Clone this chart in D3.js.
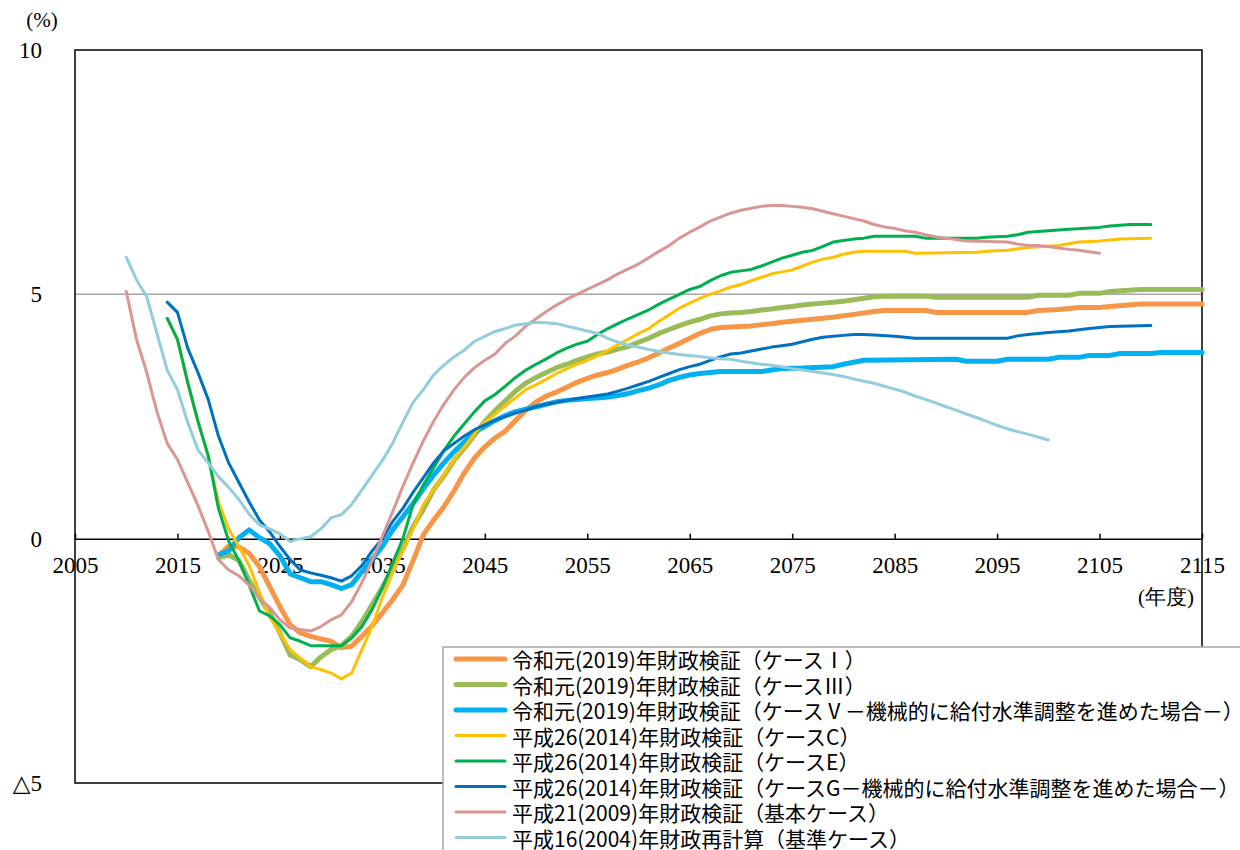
<!DOCTYPE html>
<html><head><meta charset="utf-8">
<script src="https://cdn.jsdelivr.net/npm/d3@7/dist/d3.min.js"></script>
<style>
body{margin:0;background:#fff}
.serif text, text.serif{font-family:"Liberation Serif","DejaVu Serif",serif}
</style>
</head><body>
<svg id="chart" width="1240" height="850"></svg>
<script>
// ---------- data ----------
const xTickValues = [2005, 2015, 2025, 2035, 2045, 2055, 2065, 2075, 2085, 2095, 2105, 2115];
const yTickValues = [10, 5, 0, -5];
const yTickLabels = ["10", "5", "0", "△5"];

const seriesNames = [
  "令和元(2019)年財政検証（ケースⅠ）",
  "令和元(2019)年財政検証（ケースⅢ）",
  "令和元(2019)年財政検証（ケースⅤ－機械的に給付水準調整を進めた場合－）",
  "平成26(2014)年財政検証（ケースC）",
  "平成26(2014)年財政検証（ケースE）",
  "平成26(2014)年財政検証（ケースG－機械的に給付水準調整を進めた場合－）",
  "平成21(2009)年財政検証（基本ケース）",
  "平成16(2004)年財政再計算（基準ケース）"
];

const r1CaseI = [[2019,-0.35],[2020,-0.15],[2021,-0.17],[2022,-0.3],[2023,-0.57],[2024,-0.98],[2025,-1.39],[2026,-1.76],[2027,-1.93],[2028,-2.0],[2029,-2.05],[2030,-2.1],[2031,-2.23],[2032,-2.2],[2033,-2.0],[2034,-1.78],[2035,-1.52],[2036,-1.25],[2037,-0.95],[2038,-0.45],[2039,0.08],[2040,0.38],[2041,0.65],[2042,0.98],[2043,1.35],[2044,1.65],[2045,1.88],[2046,2.06],[2047,2.2],[2048,2.42],[2049,2.63],[2050,2.8],[2051,2.92],[2052,3.0],[2053,3.1],[2054,3.2],[2055,3.28],[2056,3.35],[2057,3.4],[2058,3.47],[2059,3.55],[2060,3.62],[2061,3.7],[2062,3.8],[2063,3.9],[2064,4.0],[2065,4.1],[2066,4.2],[2067,4.28],[2068,4.32],[2070,4.34],[2071,4.35],[2072,4.38],[2073,4.4],[2074,4.43],[2075,4.45],[2076,4.47],[2077,4.49],[2078,4.51],[2079,4.53],[2080,4.56],[2081,4.59],[2082,4.62],[2083,4.65],[2084,4.67],[2088,4.67],[2089,4.63],[2098,4.63],[2099,4.67],[2101,4.69],[2103,4.73],[2105,4.73],[2106,4.75],[2109,4.8],[2115,4.8]];

const r1CaseIII = [[2019,-0.39],[2020,-0.33],[2021,-0.45],[2022,-0.85],[2023,-1.2],[2024,-1.52],[2025,-1.93],[2026,-2.38],[2027,-2.48],[2028,-2.62],[2029,-2.42],[2030,-2.27],[2031,-2.19],[2032,-2.0],[2033,-1.7],[2034,-1.35],[2035,-1.0],[2036,-0.62],[2037,-0.22],[2038,0.25],[2039,0.6],[2040,1.0],[2041,1.28],[2042,1.6],[2043,1.85],[2044,2.12],[2045,2.4],[2046,2.62],[2047,2.82],[2048,3.02],[2049,3.18],[2050,3.3],[2051,3.4],[2052,3.5],[2053,3.57],[2054,3.65],[2055,3.72],[2056,3.78],[2057,3.82],[2058,3.88],[2059,3.93],[2060,4.02],[2061,4.1],[2062,4.2],[2063,4.28],[2064,4.36],[2065,4.43],[2066,4.49],[2067,4.56],[2068,4.6],[2069,4.62],[2070,4.63],[2071,4.65],[2072,4.68],[2073,4.7],[2074,4.73],[2075,4.75],[2076,4.78],[2077,4.8],[2078,4.82],[2079,4.84],[2080,4.86],[2081,4.89],[2082,4.92],[2083,4.95],[2084,4.96],[2088,4.96],[2089,4.94],[2098,4.94],[2099,4.98],[2102,4.98],[2103,5.02],[2105,5.02],[2106,5.06],[2109,5.1],[2115,5.1]];

const r1CaseV = [[2019,-0.33],[2020,-0.25],[2021,0.02],[2022,0.18],[2023,0.02],[2024,-0.1],[2025,-0.35],[2026,-0.72],[2027,-0.8],[2028,-0.88],[2029,-0.88],[2030,-0.94],[2031,-1.02],[2032,-0.94],[2033,-0.68],[2034,-0.42],[2035,-0.16],[2036,0.18],[2037,0.45],[2038,0.72],[2039,1.02],[2040,1.3],[2041,1.55],[2042,1.78],[2043,1.98],[2044,2.18],[2045,2.3],[2046,2.42],[2047,2.52],[2048,2.6],[2049,2.65],[2050,2.7],[2051,2.75],[2052,2.8],[2053,2.83],[2054,2.85],[2055,2.87],[2056,2.88],[2057,2.9],[2058,2.93],[2059,2.97],[2060,3.03],[2061,3.08],[2062,3.15],[2063,3.24],[2064,3.3],[2065,3.35],[2066,3.38],[2067,3.4],[2068,3.42],[2072,3.42],[2073,3.45],[2074,3.48],[2076,3.49],[2079,3.52],[2080,3.57],[2081,3.61],[2082,3.65],[2091,3.67],[2092,3.63],[2095,3.63],[2096,3.67],[2100,3.67],[2101,3.71],[2103,3.71],[2104,3.75],[2106,3.75],[2107,3.79],[2110,3.79],[2111,3.81],[2115,3.81]];

const h26CaseC = [[2014,4.51],[2015,4.08],[2016,3.2],[2017,2.4],[2018,1.7],[2019,0.75],[2020,0.2],[2021,-0.16],[2022,-0.55],[2023,-1.1],[2024,-1.6],[2025,-1.93],[2026,-2.27],[2027,-2.45],[2028,-2.62],[2029,-2.68],[2030,-2.75],[2031,-2.87],[2032,-2.75],[2033,-2.27],[2034,-1.8],[2035,-1.2],[2036,-0.7],[2037,-0.25],[2038,0.2],[2039,0.7],[2040,1.0],[2041,1.3],[2042,1.62],[2043,1.88],[2044,2.15],[2045,2.38],[2046,2.55],[2047,2.72],[2048,2.88],[2049,3.05],[2050,3.15],[2051,3.26],[2052,3.38],[2053,3.48],[2054,3.57],[2055,3.65],[2056,3.74],[2057,3.85],[2058,3.97],[2059,4.08],[2060,4.2],[2061,4.3],[2062,4.45],[2063,4.58],[2064,4.72],[2065,4.82],[2066,4.92],[2067,5.0],[2068,5.07],[2069,5.15],[2070,5.2],[2071,5.28],[2072,5.35],[2073,5.42],[2074,5.46],[2075,5.5],[2076,5.58],[2077,5.66],[2078,5.72],[2079,5.76],[2080,5.82],[2081,5.86],[2082,5.88],[2086,5.88],[2087,5.84],[2093,5.86],[2094,5.88],[2096,5.9],[2098,5.96],[2101,6.0],[2103,6.07],[2105,6.09],[2107,6.13],[2110,6.15]];

const h26CaseE = [[2014,4.51],[2015,4.08],[2016,3.2],[2017,2.4],[2018,1.7],[2019,0.62],[2020,-0.05],[2021,-0.45],[2022,-0.95],[2023,-1.48],[2024,-1.58],[2025,-1.76],[2026,-2.03],[2027,-2.1],[2028,-2.19],[2031,-2.19],[2032,-2.03],[2033,-1.8],[2034,-1.45],[2035,-1.0],[2036,-0.5],[2037,0.0],[2038,0.7],[2039,1.1],[2040,1.45],[2041,1.8],[2042,2.1],[2043,2.35],[2044,2.6],[2045,2.82],[2046,2.95],[2047,3.12],[2048,3.3],[2049,3.45],[2050,3.57],[2051,3.68],[2052,3.8],[2053,3.9],[2054,3.98],[2055,4.04],[2056,4.18],[2057,4.3],[2058,4.4],[2059,4.5],[2060,4.59],[2061,4.68],[2062,4.8],[2063,4.9],[2064,5.0],[2065,5.1],[2066,5.16],[2067,5.28],[2068,5.38],[2069,5.45],[2070,5.48],[2071,5.51],[2072,5.58],[2073,5.66],[2074,5.74],[2075,5.8],[2076,5.86],[2077,5.9],[2078,5.98],[2079,6.07],[2080,6.1],[2081,6.13],[2082,6.15],[2083,6.19],[2087,6.19],[2088,6.15],[2093,6.15],[2094,6.17],[2096,6.19],[2097,6.22],[2098,6.27],[2100,6.3],[2102,6.33],[2105,6.37],[2106,6.4],[2108,6.43],[2110,6.43]];

const h26CaseG = [[2014,4.84],[2015,4.63],[2016,3.9],[2017,3.4],[2018,2.85],[2019,2.1],[2020,1.55],[2021,1.15],[2022,0.75],[2023,0.38],[2024,0.14],[2025,-0.16],[2026,-0.43],[2027,-0.64],[2028,-0.7],[2029,-0.75],[2030,-0.8],[2031,-0.87],[2032,-0.76],[2033,-0.55],[2034,-0.25],[2035,0.0],[2036,0.35],[2037,0.62],[2038,0.95],[2039,1.25],[2040,1.55],[2041,1.8],[2042,1.95],[2043,2.1],[2044,2.23],[2045,2.33],[2046,2.42],[2047,2.5],[2048,2.57],[2049,2.63],[2050,2.7],[2051,2.75],[2052,2.79],[2053,2.83],[2054,2.87],[2055,2.9],[2056,2.93],[2057,2.96],[2058,3.02],[2059,3.08],[2060,3.15],[2061,3.22],[2062,3.3],[2063,3.38],[2064,3.46],[2065,3.52],[2066,3.57],[2067,3.65],[2068,3.72],[2069,3.78],[2070,3.8],[2071,3.84],[2072,3.88],[2073,3.92],[2074,3.95],[2075,3.98],[2076,4.03],[2077,4.08],[2078,4.12],[2079,4.14],[2080,4.16],[2081,4.18],[2082,4.18],[2083,4.17],[2085,4.14],[2087,4.1],[2096,4.1],[2097,4.15],[2098,4.18],[2100,4.22],[2102,4.25],[2104,4.3],[2106,4.34],[2108,4.35],[2110,4.36]];

const h21Base = [[2010,5.06],[2011,4.08],[2012,3.4],[2013,2.6],[2014,1.95],[2015,1.62],[2016,1.15],[2017,0.68],[2018,0.15],[2019,-0.43],[2020,-0.64],[2021,-0.76],[2022,-0.95],[2023,-1.22],[2024,-1.41],[2025,-1.66],[2026,-1.83],[2027,-1.86],[2028,-1.89],[2029,-1.8],[2030,-1.66],[2031,-1.56],[2032,-1.29],[2033,-0.9],[2034,-0.45],[2035,0.05],[2036,0.55],[2037,1.07],[2038,1.55],[2039,2.0],[2040,2.4],[2041,2.75],[2042,3.05],[2043,3.3],[2044,3.5],[2045,3.65],[2046,3.78],[2047,4.0],[2048,4.15],[2049,4.35],[2050,4.5],[2051,4.65],[2052,4.78],[2053,4.9],[2054,5.0],[2055,5.1],[2056,5.2],[2057,5.3],[2058,5.42],[2059,5.52],[2060,5.62],[2061,5.75],[2062,5.88],[2063,6.0],[2064,6.15],[2065,6.27],[2066,6.38],[2067,6.5],[2068,6.58],[2069,6.66],[2070,6.72],[2071,6.76],[2072,6.8],[2073,6.82],[2074,6.82],[2075,6.8],[2076,6.78],[2077,6.75],[2078,6.7],[2079,6.65],[2080,6.6],[2081,6.55],[2082,6.5],[2083,6.43],[2084,6.38],[2085,6.35],[2086,6.3],[2087,6.27],[2088,6.22],[2089,6.18],[2090,6.15],[2091,6.12],[2092,6.09],[2096,6.07],[2097,6.03],[2098,6.0],[2099,6.0],[2100,5.98],[2101,5.95],[2102,5.92],[2103,5.9],[2104,5.87],[2105,5.84]];

const h16Base = [[2010,5.76],[2011,5.3],[2012,4.95],[2013,4.2],[2014,3.45],[2015,3.05],[2016,2.38],[2017,1.82],[2018,1.55],[2019,1.27],[2020,1.05],[2021,0.8],[2022,0.5],[2023,0.28],[2024,0.2],[2025,0.1],[2026,-0.06],[2027,0.0],[2028,0.04],[2029,0.2],[2030,0.43],[2031,0.49],[2032,0.7],[2033,1.0],[2034,1.3],[2035,1.6],[2036,1.95],[2037,2.38],[2038,2.79],[2039,3.05],[2040,3.35],[2041,3.55],[2042,3.72],[2043,3.86],[2044,4.04],[2045,4.14],[2046,4.24],[2047,4.3],[2048,4.37],[2049,4.4],[2050,4.43],[2051,4.42],[2052,4.4],[2053,4.35],[2054,4.3],[2055,4.25],[2056,4.2],[2057,4.1],[2058,4.02],[2059,3.96],[2060,3.92],[2061,3.87],[2062,3.83],[2063,3.8],[2064,3.77],[2065,3.75],[2066,3.73],[2067,3.7],[2068,3.68],[2069,3.67],[2070,3.63],[2071,3.6],[2072,3.57],[2073,3.55],[2074,3.52],[2075,3.48],[2076,3.45],[2077,3.42],[2078,3.39],[2079,3.36],[2080,3.32],[2081,3.27],[2082,3.22],[2083,3.18],[2084,3.12],[2085,3.06],[2086,3.0],[2087,2.92],[2088,2.85],[2089,2.78],[2090,2.7],[2091,2.63],[2092,2.55],[2093,2.48],[2094,2.4],[2095,2.32],[2096,2.25],[2097,2.19],[2098,2.14],[2099,2.08],[2100,2.02]];

const seriesData = [r1CaseI, r1CaseIII, r1CaseV, h26CaseC, h26CaseE, h26CaseG, h21Base, h16Base];

// ---------- styles ----------
const seriesColors = ["#f79646", "#9bbb59", "#00b0f0", "#ffc000", "#00b050", "#0070c0", "#d99694", "#92cddc"];
const seriesWidths = [5, 5, 5, 3, 3, 3, 3, 3];

const svg = d3.select("#chart");
const L = 75, R = 1202, T = 50, B = 783;
const x = d3.scaleLinear().domain([2005, 2115]).range([L, R]);
const y = d3.scaleLinear().domain([-5, 10]).range([B, T]);
const sans = "'Noto Sans CJK JP','Noto Sans',sans-serif";

// gridline at 5
svg.append("line").attr("x1", L).attr("x2", R).attr("y1", y(5)).attr("y2", y(5))
  .attr("stroke", "#a6a6a6").attr("stroke-width", 1.5);

// y axis labels
const yAxis = svg.append("g").attr("class", "serif").attr("transform", `translate(${L},0)`)
  .call(d3.axisLeft(y).tickValues(yTickValues).tickSize(0).tickPadding(33)
    .tickFormat((d, i) => yTickLabels[i]));
yAxis.attr("font-family", null).attr("font-size", 23);
yAxis.select(".domain").remove();
yAxis.selectAll("text").attr("fill", "#000");

// x axis at zero
const xAxis = svg.append("g").attr("class", "serif").attr("transform", `translate(0,${y(0)})`)
  .call(d3.axisBottom(x).tickValues(xTickValues).tickSize(-5).tickSizeOuter(0).tickPadding(18)
    .tickFormat(d3.format("d")));
xAxis.attr("font-family", null).attr("font-size", 23);
xAxis.select(".domain").attr("stroke", "#000").attr("stroke-width", 1.5);
xAxis.selectAll(".tick line").attr("stroke", "#000").attr("stroke-width", 1.5);
xAxis.selectAll("text").attr("fill", "#000");

// plot frame
svg.append("rect").attr("x", L).attr("y", T).attr("width", R - L).attr("height", B - T)
  .attr("fill", "none").attr("stroke", "#000").attr("stroke-width", 1.5);

// lines
const line = d3.line().x(d => x(d[0])).y(d => y(d[1]));
seriesData.forEach((s, i) => {
  svg.append("path").datum(s).attr("d", line).attr("fill", "none")
    .attr("stroke", seriesColors[i]).attr("stroke-width", seriesWidths[i])
    .attr("stroke-linejoin", "round").attr("stroke-linecap", "round");
});

// unit labels
svg.append("text").attr("class", "serif").attr("x", 42).attr("y", 20).attr("text-anchor", "middle")
  .attr("dominant-baseline", "central").attr("font-size", 21).text("(%)");
svg.append("text").attr("class", "serif").attr("x", 1166).attr("y", 597).attr("text-anchor", "middle")
  .attr("dominant-baseline", "central").attr("font-size", 21).text("(年度)");

// legend
const lg = svg.append("g");
lg.append("rect").attr("x", 443).attr("y", 647).attr("width", 820).attr("height", 240)
  .attr("fill", "#fff").attr("stroke", "#a6a6a6").attr("stroke-width", 1.5);
seriesNames.forEach((name, i) => {
  const cy = 659 + i * 25.5;
  lg.append("line").attr("x1", 456).attr("x2", 505).attr("y1", cy).attr("y2", cy)
    .attr("stroke", seriesColors[i]).attr("stroke-width", seriesWidths[i]).attr("stroke-linecap", "round");
  lg.append("text").attr("x", 512).attr("y", cy).attr("dominant-baseline", "central")
    .attr("font-family", sans).attr("font-size", 21).attr("fill", "#000").text(name);
});
</script>
</body></html>
